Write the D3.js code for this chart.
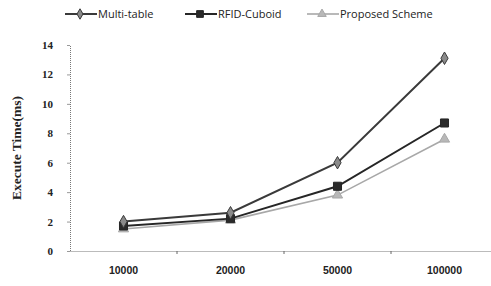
<!DOCTYPE html>
<html>
<head>
  <script src="https://d3js.org/d3.v7.min.js"></script>
  <style>
    body { margin: 0; background: #fff; }
    .leg { font-family: "Open Sans", sans-serif; font-size: 11px; fill: #222; }
    .ytick { font-family: "Liberation Serif", serif; font-weight: bold; font-size: 11px; fill: #222; }
    .xtick { font-family: "Liberation Sans", sans-serif; font-weight: bold; font-size: 10.5px; fill: #222; }
    .ylab { font-family: "Liberation Serif", serif; font-weight: bold; font-size: 13.5px; fill: #222; }
  </style>
</head>
<body>
<svg id="chart"></svg>
<script>
  var width = 491;
  var height = 286;

  var categories = ["10000", "20000", "50000", "100000"];
  var multiTable = [2.0, 2.6, 6.0, 13.1];
  var rfidCuboid = [1.7, 2.2, 4.4, 8.7];
  var proposed = [1.5, 2.1, 3.8, 7.6];
  var yTicks = [0, 2, 4, 6, 8, 10, 12, 14];

  var series = [
    { name: "Multi-table", values: multiTable, line: "#3a3a3a", fill: "#8a8a8a", width: 2, shape: d3.symbolDiamond, size: 45 },
    { name: "RFID-Cuboid", values: rfidCuboid, line: "#262626", fill: "#2a2a2a", width: 2, shape: d3.symbolSquare, size: 65 },
    { name: "Proposed Scheme", values: proposed, line: "#a8a8a8", fill: "#b8b8b8", width: 1.6, shape: d3.symbolTriangle, size: 45 }
  ];

  var margin = { left: 70, top: 45, bottom: 35 };
  var plotRight = 498;

  var svg = d3.select("#chart")
    .attr("width", width)
    .attr("height", height);

  var x = d3.scaleBand()
    .domain(categories)
    .range([margin.left, plotRight]);

  var y = d3.scaleLinear()
    .domain([0, 14])
    .range([height - margin.bottom, margin.top]);

  // y axis
  var yAxis = svg.append("g")
    .attr("transform", "translate(" + margin.left + ",0)")
    .call(d3.axisLeft(y).tickValues(yTicks).tickSize(3).tickPadding(14));
  yAxis.select(".domain").attr("stroke", "#777").attr("stroke-dasharray", "1,1");
  yAxis.selectAll(".tick line").attr("stroke", "#999");
  yAxis.selectAll(".tick text").attr("class", "ytick").attr("font-family", null).attr("font-size", null);

  // x axis
  var xAxis = svg.append("g")
    .attr("transform", "translate(0," + y(0) + ")")
    .call(d3.axisBottom(x).tickSize(0).tickPadding(16));
  xAxis.select(".domain").attr("stroke", "#777").attr("stroke-dasharray", "1,1");
  xAxis.selectAll(".tick text").attr("class", "xtick").attr("font-family", null).attr("font-size", null);

  // ticks between categories
  svg.selectAll(".sep")
    .data(categories.slice(1))
    .enter()
    .append("line")
    .attr("x1", d => x(d))
    .attr("x2", d => x(d))
    .attr("y1", y(0))
    .attr("y2", y(0) + 3)
    .attr("stroke", "#666");

  svg.append("text")
    .attr("class", "ylab")
    .attr("transform", "translate(21," + (y(7)) + ") rotate(-90)")
    .attr("text-anchor", "middle")
    .text("Execute Time(ms)");

  var line = d3.line()
    .x((d, i) => x(categories[i]) + x.bandwidth() / 2)
    .y(d => y(d));

  // draw bottom series first so the dark ones sit on top
  series.slice().reverse().forEach(function(s) {
    svg.append("path")
      .datum(s.values)
      .attr("fill", "none")
      .attr("stroke", s.line)
      .attr("stroke-width", s.width)
      .attr("d", line);

    svg.selectAll(null)
      .data(s.values)
      .enter()
      .append("path")
      .attr("d", d3.symbol().type(s.shape).size(s.size))
      .attr("transform", (d, i) => "translate(" + (x(categories[i]) + x.bandwidth() / 2) + "," + y(d) + ")")
      .attr("fill", s.fill)
      .attr("stroke", s.line)
      .attr("stroke-width", 1);
  });

  // legend
  var legendX = [65, 185, 307];
  series.forEach(function(s, i) {
    var lg = svg.append("g").attr("transform", "translate(" + legendX[i] + ",14)");
    lg.append("line")
      .attr("x1", 0).attr("x2", 32)
      .attr("y1", 0).attr("y2", 0)
      .attr("stroke", s.line)
      .attr("stroke-width", s.width);
    lg.append("path")
      .attr("d", d3.symbol().type(s.shape).size(s.size * 0.7))
      .attr("transform", "translate(15,0)")
      .attr("fill", s.fill)
      .attr("stroke", s.line);
    lg.append("text")
      .attr("class", "leg")
      .attr("x", 33)
      .attr("y", 4)
      .text(s.name);
  });
</script>
</body>
</html>
